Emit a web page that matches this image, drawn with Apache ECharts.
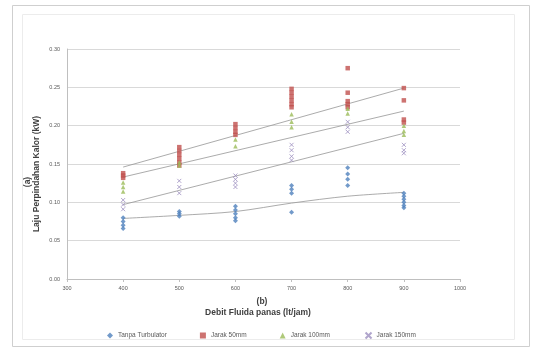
<!DOCTYPE html>
<html><head><meta charset="utf-8">
<script src="https://cdn.jsdelivr.net/npm/echarts@6/dist/echarts.min.js"></script>
<style>html,body{margin:0;padding:0;background:#fff}#c{width:537px;height:349px}</style>
</head><body><div id="c"></div>
<script>
var xTicks = [300, 400, 500, 600, 700, 800, 900, 1000];
var seriesNames = ['Tanpa Turbulator', 'Jarak 50mm', 'Jarak 100mm', 'Jarak 150mm'];

var tanpaTurbulator = [
  [400,0.080],[400,0.075],[400,0.070],[400,0.066],
  [500,0.088],[500,0.085],[500,0.082],
  [600,0.095],[600,0.090],[600,0.085],[600,0.080],[600,0.076],
  [700,0.122],[700,0.117],[700,0.112],[700,0.087],
  [800,0.145],[800,0.137],[800,0.130],[800,0.122],
  [900,0.112],[900,0.108],[900,0.104],[900,0.100],[900,0.096],[900,0.093]
];
var jarak50 = [
  [400,0.138],[400,0.135],[400,0.132],
  [500,0.172],[500,0.167],[500,0.162],[500,0.157],[500,0.152],[500,0.148],
  [600,0.202],[600,0.197],[600,0.192],[600,0.188],
  [700,0.248],[700,0.243],[700,0.238],[700,0.233],[700,0.228],[700,0.224],
  [800,0.275],[800,0.243],[800,0.232],[800,0.228],[800,0.224],
  [900,0.249],[900,0.233],[900,0.208],[900,0.204]
];
var jarak100 = [
  [400,0.126],[400,0.120],[400,0.114],
  [500,0.152],[500,0.148],
  [600,0.182],[600,0.173],
  [700,0.215],[700,0.205],[700,0.198],
  [800,0.222],[800,0.216],
  [900,0.200],[900,0.193],[900,0.188]
];
var jarak150 = [
  [400,0.103],[400,0.097],[400,0.091],
  [500,0.128],[500,0.120],[500,0.112],
  [600,0.135],[600,0.130],[600,0.125],[600,0.120],
  [700,0.175],[700,0.168],[700,0.160],[700,0.155],
  [800,0.205],[800,0.198],[800,0.192],
  [900,0.175],[900,0.168],[900,0.164]
];
// trend lines
var trendTanpa = [[400,0.079],[500,0.083],[600,0.088],[700,0.099],[800,0.108],[900,0.113]];
var trend50 = [[400,0.146],[900,0.249]];
var trend100 = [[400,0.133],[900,0.219]];
var trend150 = [[400,0.097],[900,0.190]];

var colors = ['#4F81BD', '#C0504D', '#9BBB59', '#9C8FBF'];
var xPath = 'path://M0,0L10,10M10,0L0,10';

var chart = echarts.init(document.getElementById('c'));
function scat(name, data, sym, col, size) {
  return {name: name, type: 'scatter', data: data, symbol: sym, symbolSize: size,
    itemStyle: sym === xPath ? {color: 'none', borderColor: col, borderWidth: 1} : {color: col},
    z: 3};
}
function trend(data, smooth) {
  return {type: 'line', data: data, symbol: 'none', smooth: smooth || false,
    lineStyle: {color: '#969696', width: 0.8}, z: 2, silent: true};
}
chart.setOption({
  animation: false,
  color: colors,
  grid: {left: 67, right: 77, top: 49, bottom: 70},
  xAxis: {type: 'value', min: 300, max: 1000, interval: 100,
    axisLine: {lineStyle: {color: '#bfbfbf'}},
    axisTick: {show: true, lineStyle: {color: '#bfbfbf'}, length: 3},
    axisLabel: {color: '#595959', fontSize: 5.5, margin: 6, formatter: function(v){return String(v);}},
    splitLine: {show: false}},
  yAxis: {type: 'value', min: 0, max: 0.3, interval: 0.05,
    axisLine: {show: true, lineStyle: {color: '#bfbfbf'}},
    axisTick: {show: false},
    axisLabel: {color: '#595959', fontSize: 5.5, margin: 7, formatter: function(v){return v.toFixed(2);}},
    splitLine: {lineStyle: {color: '#d9d9d9'}}},
  legend: {data: seriesNames, left: 102, top: 325, itemWidth: 6, itemHeight: 6, itemGap: 33,
    textStyle: {fontSize: 6.5, color: '#595959'}},
  graphic: [
    {type: 'rect', shape: {x: 12.5, y: 5.5, width: 517, height: 341}, style: {fill: 'none', stroke: '#cfcfcf', lineWidth: 1}},
    {type: 'rect', shape: {x: 22.5, y: 14.5, width: 492, height: 325}, style: {fill: 'none', stroke: '#ececec', lineWidth: 1}},
    {type: 'text', x: 262, y: 302, style: {text: '(b)', fontSize: 8.5, fontWeight: 'bold', fill: '#404040', textAlign: 'center', textVerticalAlign: 'middle'}},
    {type: 'text', x: 258, y: 313, style: {text: 'Debit Fluida panas (lt/jam)', fontSize: 8.5, fontWeight: 'bold', fill: '#404040', textAlign: 'center', textVerticalAlign: 'middle'}},
    {type: 'text', x: 28, y: 182, rotation: Math.PI/2, style: {text: '(a)', fontSize: 8.5, fontWeight: 'bold', fill: '#404040', textAlign: 'center', textVerticalAlign: 'middle'}},
    {type: 'text', x: 37, y: 174, rotation: Math.PI/2, style: {text: 'Laju Perpindahan Kalor (kW)', fontSize: 8.5, fontWeight: 'bold', fill: '#404040', textAlign: 'center', textVerticalAlign: 'middle'}}
  ],
  series: [
    scat(seriesNames[0], tanpaTurbulator, 'diamond', colors[0], 5),
    scat(seriesNames[1], jarak50, 'rect', colors[1], 4.5),
    scat(seriesNames[2], jarak100, 'triangle', colors[2], 4.5),
    scat(seriesNames[3], jarak150, xPath, colors[3], 4),
    trend(trendTanpa, 0.3),
    trend(trend50),
    trend(trend100),
    trend(trend150)
  ]
});
</script></body></html>
